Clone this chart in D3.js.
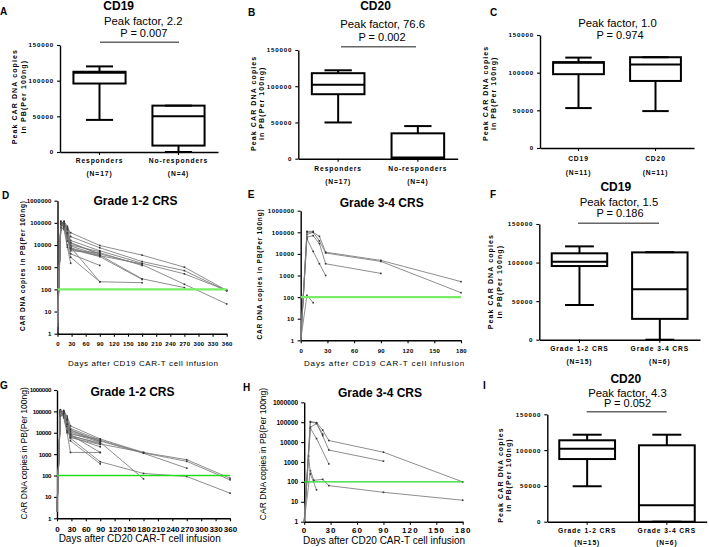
<!DOCTYPE html>
<html><head><meta charset="utf-8">
<script src="https://cdn.jsdelivr.net/npm/d3@7"></script>
<style>body{margin:0;background:#fff} svg{display:block} text{font-family:'Liberation Sans',Arial,sans-serif}</style>
</head><body>
<script>
// ---------------- DATA ----------------
const boxTicks = [0, 50000, 100000, 150000];
const logTicks = [1, 10, 100, 1000, 10000, 100000, 1000000];
const threshold = 100;

const catsA = ["Responders", "No-responders"], nA = ["(N=17)", "(N=4)"];
const statsA = [[45000, 96000, 111000, 112500, 120000], [0, 9000, 50000, 65000, 65000]];
const catsB = ["Responders", "No-responders"], nB = ["(N=17)", "(N=4)"];
const statsB = [[50000, 89000, 102000, 118000, 122000], [0, 1000, 1800, 35000, 45000]];
const catsC = ["CD19", "CD20"], nC = ["(N=11)", "(N=11)"];
const statsC = [[53000, 98000, 113000, 114000, 120000], [49000, 89000, 111000, 120500, 120500]];
const catsF = ["Grade 1-2 CRS", "Grade 3-4 CRS"], nF = ["(N=15)", "(N=6)"];
const statsF = [[45000, 95500, 101000, 112000, 121000], [0, 27000, 65500, 113200, 113500]];
const catsI = ["Grade 1-2 CRS", "Grade 3-4 CRS"], nI = ["(N=15)", "(N=6)"];
const statsI = [[49500, 87500, 102000, 113700, 121500], [0, 0, 23000, 106700, 121500]];

const daysD = [0, 7, 14, 21, 28, 90, 180, 270, 360];
const seriesD = [
  [3, 90000, 120000, 60000, 36000, 9500, 3500, 1000, 90],
  [2, 100000, 110000, 70000, 24000, 7500, 1800, 700, 85],
  [3, 70000, 90000, 40000, 16000, 5500, 1500, 500, 90],
  [2, 110000, 80000, 50000, 12000, 4000, 1300, 170, 22],
  [4, 60000, 100000, 45000, 9000, 3500, 300, 120, null],
  [2, 80000, 70000, 30000, 7500, 3300, 1400, null, null],
  [3, 120000, 90000, 60000, 6500, 3000, 280, null, null],
  [2, 50000, 60000, 20000, 5500, 4500, 1200, null, null],
  [3, 90000, 100000, 25000, 4000, 1200, null, null, null],
  [2, 100000, 80000, 10000, 2800, 220, 200, null, null],
  [3, 70000, 50000, 8000, 1500, null, null, null, null],
  [2, 110000, 60000, 30000, 8000, 220, null, null, null],
  [3, 80000, 110000, 50000, 10000, 5000, null, null, null],
  [2, 60000, 90000, 35000, 7000, 3200, null, null, null],
  [3, 90000, 70000, 15000, 13000, 3800, null, null, null]
];
const daysE = [0, 7, 14, 21, 28, 90, 180];
const seriesE = [
  [1, 100000, 100000, 65000, 12000, 5000, 520],
  [1, 80000, 100000, 40000, 11000, 4500, 160],
  [1, 60000, 70000, 30000, 3500, 1250, null],
  [1, 50000, 13000, 3500, 1000, null, null],
  [1, 120, 55, null, null, null, null],
  [1, 110000, 110000, null, null, null, null]
];
const daysG = [0, 7, 14, 21, 28, 90, 180, 270, 360];
const seriesG = [
  [2, 90000, 110000, 60000, 21000, 5100, 1200, 550, 75],
  [3, 100000, 90000, 50000, 16000, 4500, 1150, 460, 63],
  [2, 80000, 100000, 40000, 12600, 4100, 1100, 220, null],
  [3, 110000, 80000, 30000, 9500, 3600, 70, null, null],
  [2, 70000, 90000, 25000, 7500, 3000, 1200, null, null],
  [3, 90000, 70000, 20000, 6400, 2200, null, null, null],
  [2, 100000, 60000, 15000, 5500, 440, 125, 90, 15],
  [3, 60000, 80000, 35000, 4200, 350, null, null, null],
  [2, 110000, 50000, 10000, 1200, 1200, null, null, null],
  [3, 80000, 60000, 12000, 8000, 1200, null, null, null],
  [2, 90000, 80000, 30000, 7000, 3300, null, null, null],
  [3, 70000, 100000, 45000, 11000, 4000, null, null, null],
  [2, 100000, 70000, 20000, 6000, 2800, null, null, null],
  [3, 60000, 90000, 25000, 8500, 5000, null, null, null],
  [2, 120000, 80000, 40000, 14000, 3800, null, null, null]
];
const daysH = [0, 5, 7, 11, 14, 21, 28, 90, 180];
const seriesH = [
  [1, null, 107000, null, 95000, 40000, 12000, 3100, 100],
  [1, null, 56000, null, 85000, 21000, 4000, 1100, null],
  [1, null, 50000, null, 15000, null, 800, null, null],
  [1, null, 370, 120, null, 135, 65, 30, 12],
  [1, 2000, 250, null, 40, null, null, null, null],
  [1, null, 100000, null, 90000, 25000, null, null, null]
];

// ---------------- DRAW ----------------
const svg = d3.select("body").append("svg").attr("width", 709).attr("height", 547);

function txt(g, x, y, s, size, weight, anchor, ls) {
  return g.append("text").attr("x", x).attr("y", y).text(s)
    .attr("font-size", size).attr("font-weight", weight || "normal")
    .attr("text-anchor", anchor || "middle").attr("letter-spacing", ls || 0).attr("fill", "#000");
}

function styleAxis(sel, fs, ls, weight) {
  sel.select(".domain").attr("stroke", "#000").attr("stroke-width", 1.4);
  sel.selectAll(".tick line").attr("stroke", "#000").attr("stroke-width", 1.1);
  sel.selectAll(".tick text").attr("font-size", fs).attr("font-weight", weight || "bold")
    .attr("letter-spacing", ls).attr("fill", "#000")
    .attr("font-family", "'Liberation Sans',Arial,sans-serif");
}

function boxPanel(c, cats, ns, stats) {
  const g = svg.append("g");
  const y = d3.scaleLinear().domain([0, 150000]).range([c.y0, c.y150]);
  const x = d3.scaleBand().domain(cats).range([c.left, c.right])
    .paddingInner(1 - c.frac).paddingOuter((1 - c.frac) / 2);
  const ya = g.append("g").attr("transform", `translate(${c.left},0)`)
    .call(d3.axisLeft(y).tickValues(boxTicks).tickSize(3).tickSizeOuter(0).tickPadding(3).tickFormat(d3.format("d")));
  styleAxis(ya, 6.2, 0.8);
  const xa = g.append("g").attr("transform", `translate(0,${c.y0})`)
    .call(d3.axisBottom(x).tickSize(3).tickSizeOuter(0).tickFormat(""));
  styleAxis(xa, 6, 0);
  cats.forEach((k, i) => {
    const cx = x(k) + x.bandwidth() / 2;
    txt(g, cx, c.catY[0], k, 6.7, "bold", "middle", 0.9);
    txt(g, cx, c.catY[1], ns[i], 6.7, "bold", "middle", 0.9);
  });
  const bw = x.bandwidth();
  cats.forEach((k, i) => {
    const [mn, q1, md, q3, mx] = stats[i];
    const x0 = x(k), cx = x0 + bw / 2, cap = bw * 0.26;
    const gg = g.append("g").attr("stroke", "#000").attr("stroke-width", 2).attr("fill", "none");
    gg.append("line").attr("x1", cx).attr("x2", cx).attr("y1", y(q3)).attr("y2", y(mx));
    gg.append("line").attr("x1", cx).attr("x2", cx).attr("y1", y(q1)).attr("y2", y(mn));
    gg.append("line").attr("x1", cx - cap).attr("x2", cx + cap).attr("y1", y(mx)).attr("y2", y(mx));
    gg.append("line").attr("x1", cx - cap).attr("x2", cx + cap).attr("y1", y(mn)).attr("y2", y(mn));
    gg.append("rect").attr("x", x0).attr("width", bw).attr("y", y(q3)).attr("height", Math.max(0.1, y(q1) - y(q3)));
    gg.append("line").attr("x1", x0).attr("x2", x0 + bw).attr("y1", y(md)).attr("y2", y(md));
  });
  [["Peak CAR DNA copies", c.yl[0]], ["in PB(Per 100ng)", c.yl[1]]].forEach(([s, bx]) => {
    g.append("text").attr("transform", `translate(${bx},${c.yl[2]}) rotate(-90)`).text(s)
      .attr("font-size", 7).attr("font-weight", "bold").attr("text-anchor", "middle").attr("letter-spacing", 1.1);
  });
  txt(g, c.lx, c.ly, c.letter, 10, "bold", "start");
  if (c.title) txt(g, c.tx, c.ty, c.title, 12, "bold");
  txt(g, c.pfx, c.pfy, c.pf, 11.3);
  txt(g, c.px, c.py, c.p, 11);
  if (c.bar) g.append("line").attr("x1", c.bar[0]).attr("x2", c.bar[1]).attr("y1", c.bar[2]).attr("y2", c.bar[2])
    .attr("stroke", "#666").attr("stroke-width", 1.6);
}

function linePanel(c, days, series) {
  const g = svg.append("g");
  const x = d3.scaleLinear().domain([0, c.xmax]).range([c.x0, c.x1]);
  const y = d3.scaleLog().domain([1, 1e6]).range([c.yb, c.yt]);
  const ya = g.append("g").attr("transform", `translate(${c.x0},0)`)
    .call(d3.axisLeft(y).tickValues(logTicks).tickSize(3).tickSizeOuter(0).tickPadding(3).tickFormat(d3.format("d")));
  styleAxis(ya, c.s.yfs, c.s.yls);
  const xa = g.append("g").attr("transform", `translate(0,${c.yb})`)
    .call(d3.axisBottom(x).tickValues(d3.range(0, c.xmax + 1, 30)).tickSize(3).tickSizeOuter(0).tickPadding(c.s.xpad));
  styleAxis(xa, c.s.xfs, c.s.xls);
  const line = d3.line().x(d => x(d[0])).y(d => y(d[1]));
  series.forEach(vals => {
    const pts = days.map((d, i) => [d, vals[i]]).filter(p => p[1] != null);
    g.append("path").attr("d", line(pts)).attr("fill", "none").attr("stroke", "#7a7a7a").attr("stroke-width", 0.85);
    g.selectAll(null).data(pts.slice(1)).enter().append("rect")
      .attr("x", d => x(d[0]) - 0.8).attr("y", d => y(d[1]) - 0.8).attr("width", 1.6).attr("height", 1.6).attr("fill", "#333");
  });
  g.append("line").attr("x1", x(0)).attr("x2", x(c.xmax)).attr("y1", y(threshold)).attr("y2", y(threshold))
    .attr("stroke", c.s.green).attr("stroke-width", c.s.gw);
  txt(g, c.lx, c.ly, c.letter, 10, "bold", "start");
  txt(g, c.tx, c.ty, c.title, 12, "bold");
  txt(g, c.xtx, c.xty, c.xTitle, c.s.xtfs, "normal", "middle", c.s.xtls);
  g.append("text").attr("transform", `translate(${c.ylx},${c.yly}) rotate(-90)`).text("CAR DNA copies in PB(Per 100ng)")
    .attr("font-size", c.s.ylfs).attr("font-weight", c.s.ylw).attr("text-anchor", "middle").attr("letter-spacing", c.s.ylls);
}

const smallD = {yfs: 6, yls: 0.2, xfs: 6, xls: 0.3, xpad: 4.7, green: "#77ee66", gw: 2.4, xtfs: 8, xtls: 0.6, ylfs: 6.5, ylw: "bold", ylls: 0.8};
const smallE = Object.assign({}, smallD, {yls: 0.5, xpad: 5.1, xtls: 0.9});
const largeG = {yfs: 6.2, yls: -0.4, xfs: 8, xls: 0, xpad: 4.7, green: "#22dd22", gw: 1.4, xtfs: 10, xtls: 0, ylfs: 8.5, ylw: "normal", ylls: 0};
const largeH = Object.assign({}, largeG, {yfs: 6.5, yls: 0, xls: 1.2, xpad: 2.9});

boxPanel({left: 60, right: 218, y0: 152, y150: 45, frac: 0.66, letter: "A", lx: 0, ly: 15, title: "CD19", tx: 118.7, ty: 9.5,
  pf: "Peak factor, 2.2", pfx: 143.3, pfy: 25, p: "P = 0.007", px: 143.8, py: 37.3, bar: [100, 179, 42.3],
  yl: [16.5, 25.8, 96.7], catY: [163.3, 175.7]}, catsA, nA, statsA);
boxPanel({left: 298.3, right: 457.7, y0: 158.7, y150: 50, frac: 0.66, letter: "B", lx: 248, ly: 16, title: "CD20", tx: 375.5, ty: 10,
  pf: "Peak factor, 76.6", pfx: 382.7, pfy: 28.3, p: "P = 0.002", px: 382, py: 41, bar: [341, 416, 46.7],
  yl: [255.8, 264.2, 103.3], catY: [170.7, 184]}, catsB, nB, statsB);
boxPanel({left: 540, right: 694, y0: 148, y150: 35, frac: 0.66, letter: "C", lx: 490, ly: 16,
  pf: "Peak factor, 1.0", pfx: 617.5, pfy: 26.7, p: "P = 0.974", px: 620, py: 39.3,
  yl: [487.5, 495.8, 93.3], catY: [160.7, 175]}, catsC, nC, statsC);
boxPanel({left: 539.3, right: 700, y0: 339.7, y150: 224, frac: 0.69, letter: "F", lx: 490, ly: 198.3, title: "CD19", tx: 615.8, ty: 190.7,
  pf: "Peak factor, 1.5", pfx: 619, pfy: 205.7, p: "P = 0.186", px: 620, py: 217.3, bar: [578, 659, 223.3],
  yl: [493.2, 501.8, 281.7], catY: [350.7, 364]}, catsF, nF, statsF);
boxPanel({left: 547.3, right: 706.7, y0: 521.7, y150: 414.3, frac: 0.70, letter: "I", lx: 483, ly: 389, title: "CD20", tx: 625.8, ty: 383.3,
  pf: "Peak factor, 4.3", pfx: 627.5, pfy: 396.7, p: "P = 0.052", px: 627.5, py: 407.3, bar: [586.7, 666.7, 411.7],
  yl: [502.5, 510.8, 475], catY: [533.3, 545]}, catsI, nI, statsI);

linePanel({x0: 57.5, x1: 226.7, xmax: 360, yb: 333.7, yt: 200.7, letter: "D", lx: 2, ly: 199, title: "Grade 1-2 CRS", tx: 135.5, ty: 205,
  xTitle: "Days after CD19 CAR-T cell infusion", xtx: 143.3, xty: 365.7, ylx: 24.5, yly: 265.7, s: smallD}, daysD, seriesD);
linePanel({x0: 300.7, x1: 461, xmax: 180, yb: 340.3, yt: 210.7, letter: "E", lx: 247.7, ly: 198.3, title: "Grade 3-4 CRS", tx: 381.7, ty: 207.3,
  xTitle: "Days after CD19 CAR-T cell infusion", xtx: 384.5, xty: 365.7, ylx: 261.5, yly: 274, s: smallE}, daysE, seriesE);
linePanel({x0: 57, x1: 230, xmax: 360, yb: 518.3, yt: 390, letter: "G", lx: 0, ly: 389, title: "Grade 1-2 CRS", tx: 132.5, ty: 395.7,
  xTitle: "Days after CD20 CAR-T cell infusion", xtx: 139.7, xty: 542.3, ylx: 26.5, yly: 453.3, s: largeG}, daysG, seriesG);
linePanel({x0: 304.2, x1: 462.7, xmax: 180, yb: 521.7, yt: 402.3, letter: "H", lx: 243, ly: 390.7, title: "Grade 3-4 CRS", tx: 380, ty: 397.3,
  xTitle: "Days after CD20 CAR-T cell infusion", xtx: 384, xty: 544.3, ylx: 266.3, yly: 454, s: largeH}, daysH, seriesH);
</script>
</body></html>
